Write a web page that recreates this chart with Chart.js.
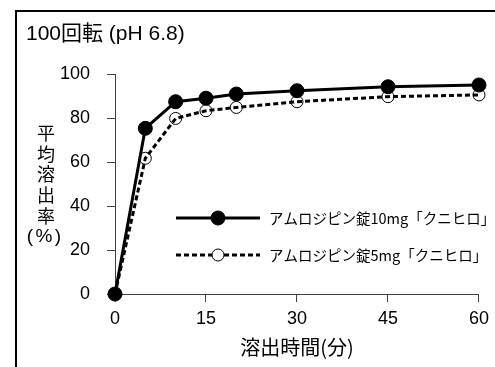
<!DOCTYPE html>
<html>
<head>
<meta charset="utf-8">
<script src="https://cdn.jsdelivr.net/npm/chart.js@4.4.1/dist/chart.umd.min.js"></script>
<style>
  html, body { margin: 0; padding: 0; background: #fff; }
  #wrap { width: 495px; height: 367px; position: relative; }
</style>
</head>
<body>
<div id="wrap"><canvas id="c" width="495" height="367"></canvas></div>
<script>
// Sampling times (min) and mean dissolution rate (%)
const timesMin = [0, 5, 10, 15, 20, 30, 45, 60];
const rate10mg = [0, 75.3, 87.4, 89.0, 90.9, 92.4, 94.2, 95.0];
const rate5mg  = [0, 61.7, 79.8, 83.3, 84.8, 87.4, 89.7, 90.5];
const xTickValues = [0, 15, 30, 45, 60];
const yTickValues = [0, 20, 40, 60, 80, 100];
const seriesNames = ['アムロジピン錠10mg「クニヒロ」', 'アムロジピン錠5mg「クニヒロ」'];
const titleText = '100回転 (pH 6.8)';
const yTitleChars = ['平', '均', '溶', '出', '率', '(%)'];
const xTitleText = '溶出時間(分)';

const CJK = '"Noto Sans CJK JP", "Liberation Sans", sans-serif';
const MIXED = '"Liberation Sans", "Noto Sans CJK JP", sans-serif';
const NUM = '"Liberation Sans", Arial, sans-serif';

const toPoints = ys => timesMin.map((t, i) => ({ x: t, y: ys[i] }));

// Frame, titles and the in-plot legend
const decorations = {
  id: 'decorations',
  afterDraw(chart) {
    const ctx = chart.ctx;
    ctx.save();
    // outer frame (top and left edges)
    ctx.strokeStyle = '#000';
    ctx.lineWidth = 2;
    ctx.beginPath();
    ctx.moveTo(16, 367);
    ctx.lineTo(16, 11);
    ctx.lineTo(495, 11);
    ctx.stroke();

    ctx.fillStyle = '#000';
    ctx.textBaseline = 'middle';
    // chart title
    ctx.textAlign = 'left';
    ctx.font = '21px ' + MIXED;
    ctx.fillText(titleText, 26, 34);

    // stacked y-axis title
    ctx.textAlign = 'center';
    ctx.font = '18px ' + CJK;
    yTitleChars.forEach((ch, i) => {
      if (ch === '(%)') {
        ctx.save();
        ctx.font = '19px ' + MIXED;
        ctx.fillText('(', 30, 133 + i * 20.8);
        ctx.fillText('%', 44, 133 + i * 20.8);
        ctx.fillText(')', 58, 133 + i * 20.8);
        ctx.restore();
      } else {
        ctx.fillText(ch, 46, 133 + i * 20.8);
      }
    });

    // x-axis title
    ctx.font = '20px ' + CJK;
    ctx.fillText(xTitleText, 297, 347);

    // legend
    const rows = [218, 255];
    chart.data.datasets.forEach((ds, i) => {
      const y = rows[i];
      ctx.save();
      ctx.strokeStyle = ds.borderColor;
      ctx.lineWidth = ds.borderWidth;
      ctx.setLineDash(ds.borderDash || []);
      ctx.beginPath();
      ctx.moveTo(176, y);
      ctx.lineTo(260, y);
      ctx.stroke();
      ctx.setLineDash([]);
      ctx.beginPath();
      ctx.arc(218, y, ds.pointRadius, 0, Math.PI * 2);
      ctx.fillStyle = ds.pointBackgroundColor === 'transparent' ? '#fff' : ds.pointBackgroundColor;
      ctx.fill();
      ctx.lineWidth = ds.pointBorderWidth;
      ctx.strokeStyle = ds.pointBorderColor;
      ctx.stroke();
      ctx.restore();
      ctx.textAlign = 'left';
      ctx.font = '14.5px ' + CJK;
      ctx.fillStyle = '#000';
      ctx.fillText(seriesNames[i], 269, y);
    });
    ctx.restore();
  }
};

new Chart(document.getElementById('c'), {
  type: 'line',
  data: {
    datasets: [
      {
        label: seriesNames[0],
        data: toPoints(rate10mg),
        borderColor: '#000',
        borderWidth: 3,
        pointRadius: 7,
        pointBackgroundColor: '#000',
        pointBorderColor: '#000',
        pointBorderWidth: 1,
        tension: 0,
        clip: false
      },
      {
        label: seriesNames[1],
        data: toPoints(rate5mg),
        borderColor: '#000',
        borderWidth: 3,
        borderDash: [5, 3],
        pointRadius: 6,
        pointBackgroundColor: 'transparent',
        pointBorderColor: '#000',
        pointBorderWidth: 1,
        tension: 0,
        clip: false
      }
    ]
  },
  options: {
    responsive: false,
    animation: false,
    events: [],
    layout: { padding: { top: 74, right: 16, left: 0, bottom: 0 } },
    plugins: {
      legend: { display: false },
      title: { display: false },
      tooltip: { enabled: false }
    },
    scales: {
      x: {
        type: 'linear',
        min: 0,
        max: 60,
        afterBuildTicks: s => { s.ticks = xTickValues.map(v => ({ value: v })); },
        afterFit: s => { s.height = 73; },
        grid: { display: true, drawOnChartArea: false, drawTicks: true, tickLength: 8, color: '#404040' },
        border: { display: true, color: '#404040', width: 1 },
        ticks: { color: '#000', font: { family: NUM, size: 18 }, padding: 6, maxRotation: 0 }
      },
      y: {
        type: 'linear',
        min: 0,
        max: 100,
        afterBuildTicks: s => { s.ticks = yTickValues.map(v => ({ value: v })); },
        afterFit: s => { s.width = 115; },
        grid: { display: true, drawOnChartArea: false, drawTicks: true, tickLength: 8, color: '#404040' },
        border: { display: true, color: '#404040', width: 1 },
        ticks: { color: '#000', font: { family: NUM, size: 18 }, padding: 17 }
      }
    }
  },
  plugins: [decorations]
});
</script>
</body>
</html>
